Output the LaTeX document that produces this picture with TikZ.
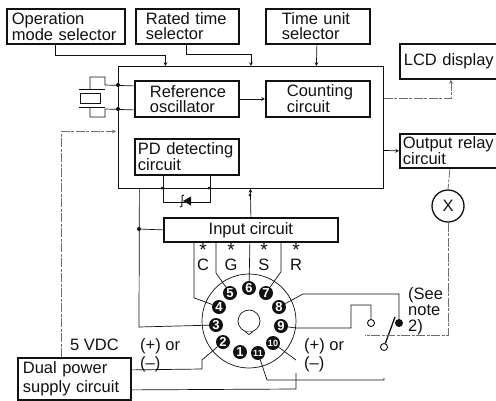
\documentclass[tikz,border=0pt]{standalone}
\usepackage{fontspec}
\setmainfont{Liberation Sans}
\definecolor{ink}{HTML}{111111}
\definecolor{faint}{HTML}{6E6E6E}
\newcommand{\bigstar}{{\fontsize{19}{15}\selectfont *}}
\tikzset{
  lbl/.style={font=\fontsize{16.5}{15}\selectfont, color=ink, inner sep=0pt},
  blockbox/.style n args={2}{draw=ink, line width=1.8pt, anchor=north west, lbl, align=left,
    text width=#1pt-2*#2pt, inner xsep=#2pt, inner ysep=0pt},
  wire/.style={draw=ink, line width=0.7pt},
  scanwire/.style={draw=faint, line width=0.8pt, dash pattern=on 9pt off 1.5pt on 3pt off 1.5pt},
  joint/.style={circle, fill=ink, minimum size=4pt, inner sep=0pt},
  pinmark/.style={circle, fill=ink, minimum size=14pt, inner sep=0pt, text=white, font=\fontsize{13}{13}\bfseries\selectfont},
  pinsmall/.style={pinmark, font=\fontsize{9}{9}\bfseries\selectfont},
  contact/.style={circle, draw=ink, fill=white, line width=0.9pt, minimum size=7pt, inner sep=0pt}
}
\begin{document}
\begin{tikzpicture}[x=1pt, y=-1pt]
\useasboundingbox (0,0) rectangle (496,400);

% Main enclosure
\node[draw=ink, line width=0.8pt, anchor=north west, minimum width=265pt, minimum height=122pt, inner sep=0pt] (mainbox) at (118,66) {};

% Selector blocks
\node[blockbox={118}{5}, minimum height=35pt] (opmode) at (6,8) {Operation\\mode selector};
\node[blockbox={103}{10}, minimum height=35pt] (ratedtime) at (135,8) {Rated time\\selector};
\node[blockbox={104}{16}, minimum height=35pt] (timeunit) at (265,8) {Time unit\\selector};

% Blocks inside the enclosure
\node[blockbox={104}{15}, minimum height=36pt] (refosc) at (134,80) {Reference\\oscillator};
\node[blockbox={104}{21}, minimum height=36pt] (counting) at (265,80) {Counting\\circuit};
\node[blockbox={104}{3}, minimum height=36pt] (pddetect) at (134,138) {PD detecting\\circuit};

% Blocks on the right
\node[blockbox={100}{4}, minimum height=35pt] (lcd) at (399,43) {LCD display};
\node[blockbox={100}{3}, minimum height=34pt] (outrelay) at (399,133) {Output relay\\circuit};
\node[draw=ink, circle, line width=1.3pt, minimum size=32pt, inner sep=0pt, lbl] (coil) at (448,206) {X};

% Input and supply
\node[draw=ink, line width=1.8pt, anchor=north west, minimum width=174pt, minimum height=24pt, inner sep=0pt, lbl] (input) at (163,217) {Input circuit};
\node[blockbox={113}{5}, minimum height=42pt] (supply) at (17,357) {Dual power\\[3pt]supply circuit};

% Selector lines
\draw[wire, -stealth] ([xshift=-11pt]opmode.south) -- ++(0,11) -| ([xshift=-85.5pt]mainbox.north);
\draw[wire, -stealth] ([xshift=-1.5pt]ratedtime.south) -- ++(0,10) -| (mainbox.north);
\draw[wire, -stealth] ([xshift=-1pt]timeunit.south) -- ([xshift=65.5pt]mainbox.north);

% Crystal
\coordinate (xtalup) at (90,89);
\coordinate (xtaldown) at (90,107);
\node[draw=ink, line width=1pt, minimum width=20pt, minimum height=10pt, inner sep=0pt] (xtal) at (90,98) {};
\draw[wire, line width=1pt] (79,89) -- (105,89);
\draw[wire, line width=1pt] (79,107) -- (105,107);
\draw[wire] (xtalup) -- ++(0,-12) -- ++(15,0) -- ++(0,8) -- ([yshift=13pt]refosc.west);
\draw[wire] (xtaldown) -- ++(0,10) -- ++(15,0) -- ++(0,-8) -- ([yshift=-11pt]refosc.west);
\node[joint] (xtaljoinup) at (118,85) {};
\node[joint] (xtaljoindown) at (118,109) {};

% Signal lines between blocks
\draw[wire, -stealth] (refosc) -- (counting);
\draw[scanwire, -stealth] ([yshift=29pt]mainbox.east) -| ([xshift=1pt]lcd.south);
\draw[wire, -stealth] ([yshift=-23pt]mainbox.east) -- (outrelay.west);
\draw[scanwire] (outrelay.south) -- (coil.north);

% Detector diode
\draw[wire] ([xshift=-24pt]pddetect.south) -- ++(0,27) -- ++(47,0) -- ([xshift=23pt]pddetect.south);
\node[joint, minimum size=3pt] (pdjoinleft) at (162,188) {};
\node[joint, minimum size=3pt] (pdjoinright) at (209,188) {};
\fill[ink] (183,201) -- (191,196.5) -- (191,205.5) -- cycle;
\draw[wire, line width=1pt] (184,195) .. controls (182,195) .. (182,201) .. controls (182,207) .. (180,207);

% Enclosure to input circuit
\draw[wire, stealth-] ([xshift=-0.5pt]mainbox.south) -- (input.north);
\node[joint, minimum size=3pt] (inputjoin) at (250,195) {};
\node[joint] (groundjoin) at (139,229) {};
\draw[wire] (groundjoin) -- (input.west);

% Socket
\node[draw=ink, circle, line width=0.7pt, minimum size=94pt, inner sep=0pt] (socket) at (249,321) {};
\node[draw=ink, circle, fill=white, line width=0.7pt, minimum size=22pt, inner sep=0pt] (hole) at (249,321) {};
\filldraw[wire, fill=white] (hole.250) -- (249,334.5) -- (hole.290);

% Socket pins
\node[pinmark] (pin1) at (240,352) {1};
\node[pinmark] (pin2) at (223,342) {2};
\node[pinmark] (pin3) at (216,325) {3};
\node[pinmark] (pin4) at (219,307) {4};
\node[pinmark] (pin5) at (230,293) {5};
\node[pinmark] (pin6) at (249,288) {6};
\node[pinmark] (pin7) at (266,293) {7};
\node[pinmark] (pin8) at (279,307) {8};
\node[pinmark] (pin9) at (281,326) {9};
\node[pinsmall] (pin10) at (273,343) {10};
\node[pinsmall] (pin11) at (258,353) {11};

% Input circuit to pins
\draw[wire] ([xshift=-57pt]input.south) -- ++(0,55) -- (pin4);
\draw[wire] ([xshift=-35pt]input.south) -- ++(0,30) -- (pin5);
\draw[wire] ([xshift=-1pt]input.south) -- (pin6);
\draw[wire] ([xshift=30pt]input.south) -- ++(0,29) -- (pin7);
\draw[wire] (pin3) -- (139,327) -- ([xshift=-111.5pt]mainbox.south);

% Terminal labels
\node[lbl, anchor=north, align=center] (labc) at (203,243) {\bigstar\\[-1pt]C};
\node[lbl, anchor=north, align=center] (labg) at (231,243) {\bigstar\\[-1pt]G};
\node[lbl, anchor=north, align=center] (labs) at (264,243) {\bigstar\\[-1pt]S};
\node[lbl, anchor=north, align=center] (labr) at (296,243) {\bigstar\\[-1pt]R};

% Supply lines
\draw[scanwire, -stealth, shorten >=2pt] ([xshift=-13pt]supply.north) |- ([yshift=-4pt]mainbox.west);
\draw[wire] ([yshift=9pt]supply.east) -- (202,369) -- (202,360) -- (pin2);
\draw[wire] ([yshift=-11pt]supply.east) -- (296,389) -- (296,373);
\draw[wire] (pin10) -- (296,360);
\node[lbl, anchor=west] (fivevdc) at (70,345) {5 VDC};
\node[lbl, anchor=north west, align=left] (polleft) at (140,338) {(+) or\\[2pt](--)};
\node[lbl, anchor=north west, align=left] (polright) at (304,338) {(+) or\\[2pt](--)};

% Relay contact
\node[contact] (contactno) at (371,323) {};
\node[contact, fill=ink] (contactcom) at (399,323) {};
\node[contact] (contactarm) at (384,347) {};
\coordinate (armtip) at (395,317);
\draw[wire, line width=1.3pt] (contactarm) -- (armtip);
\draw[wire] (pin8) -- (303,294) -| (contactcom);
\draw[wire] (pin9) -- (296,328) -- (351,328) -- (351,305) -| (contactno);
\draw[wire] (pin11) -- (267,380) -- (384,380) -- ++(0,-2);
\coordinate (coilend) at (365,335);
\draw[scanwire] (coil.south) |- (coilend);
\node[lbl, anchor=north west, align=left] (seenote) at (408,287) {(See\\[1pt]note\\[1pt]2)};

\end{tikzpicture}
\end{document}
